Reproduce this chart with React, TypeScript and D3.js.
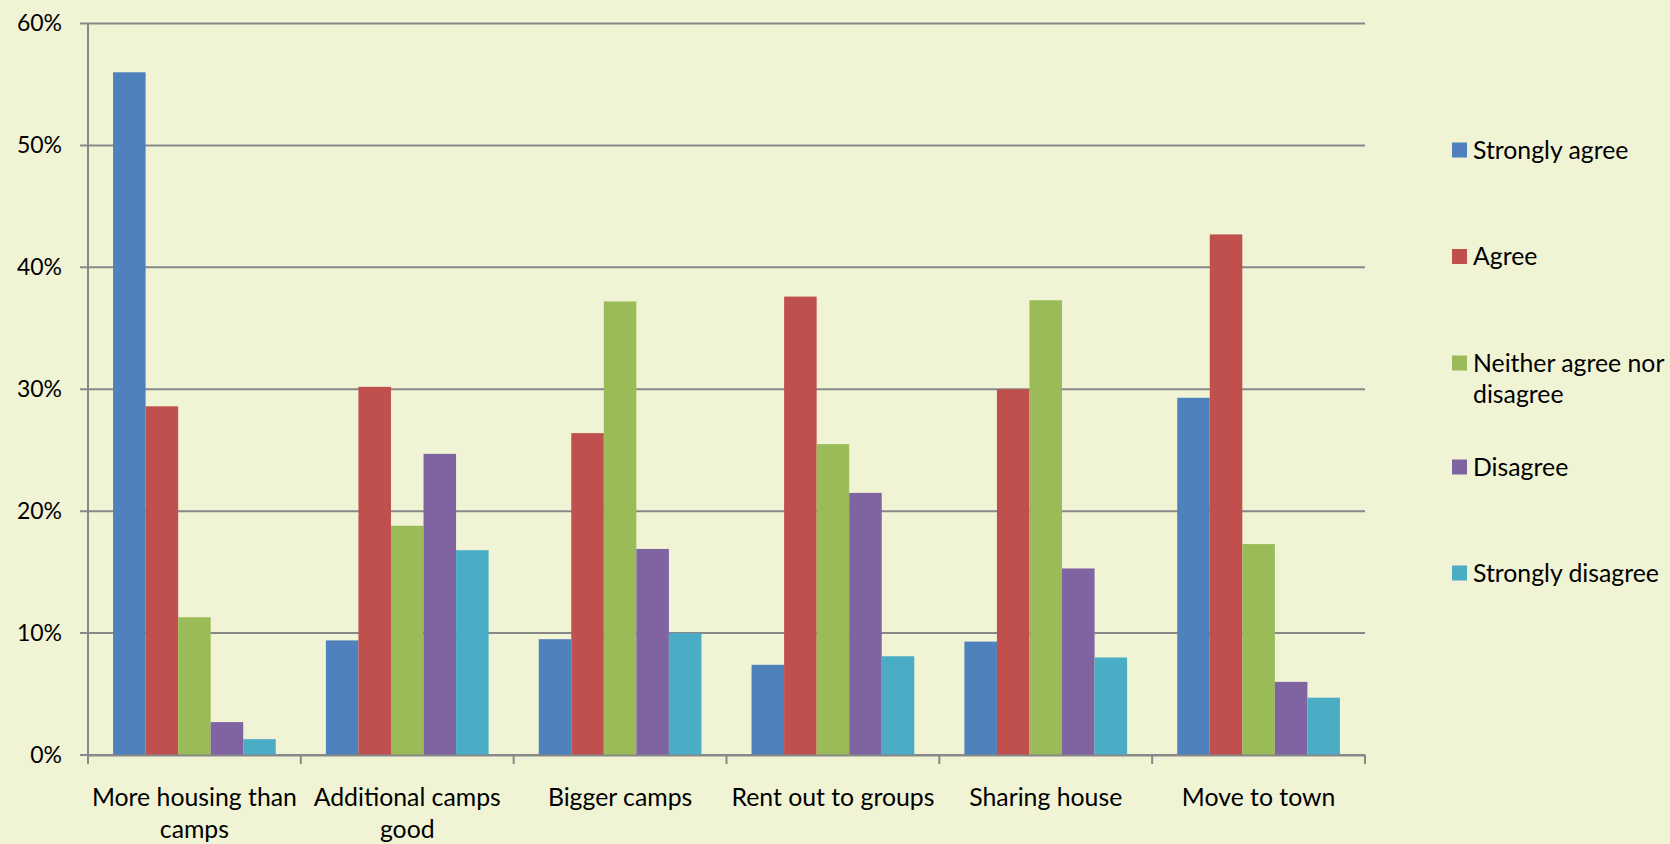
import { axisBottom, axisLeft, scaleBand, scaleLinear, select } from "d3";
import { useEffect, useRef } from "react";

const categories = [
  ["More housing than", "camps"],
  ["Additional camps", "good"],
  ["Bigger camps"],
  ["Rent out to groups"],
  ["Sharing house"],
  ["Move to town"],
];
const seriesNames = ["Strongly agree", "Agree", "Neither agree nor disagree", "Disagree", "Strongly disagree"];
const strongAgree = [56.0, 9.4, 9.5, 7.4, 9.3, 29.3];
const agree = [28.6, 30.2, 26.4, 37.6, 30.0, 42.7];
const neither = [11.3, 18.8, 37.2, 25.5, 37.3, 17.3];
const disagree = [2.7, 24.7, 16.9, 21.5, 15.3, 6.0];
const strongDisagree = [1.3, 16.8, 10.0, 8.1, 8.0, 4.7];
const yTicks = [0, 10, 20, 30, 40, 50, 60];

const COLORS = ["#4f81bd", "#c0504d", "#9bbb59", "#8064a2", "#4bacc6"];
const FONT = "Lato, 'Noto Sans', sans-serif";

export default function App() {
  const svgRef = useRef<SVGSVGElement | null>(null);

  useEffect(() => {
    if (!svgRef.current) return;
    const svg = select(svgRef.current);
    svg.selectAll("*").remove();

    const W = 1670;
    const H = 844;
    const margin = { top: 23.5, left: 88, right: 305, bottom: 89 };
    const innerW = W - margin.left - margin.right;
    const innerH = H - margin.top - margin.bottom;
    const values = [strongAgree, agree, neither, disagree, strongDisagree];
    const keys = categories.map((c) => c.join(" "));

    svg.append("rect").attr("width", W).attr("height", H).attr("fill", "#f0f4d5");

    const x0 = scaleBand<string>().domain(keys).range([0, innerW]);
    const x1 = scaleBand<string>()
      .domain(seriesNames)
      .range([0, x0.bandwidth()])
      .paddingOuter(0.77);
    const y = scaleLinear().domain([0, 60]).range([innerH, 0]);

    const chart = svg.append("g").attr("transform", `translate(${margin.left},${margin.top})`);

    // gridlines, starting at the tick mark left of the axis
    chart
      .append("g")
      .selectAll("line")
      .data(yTicks)
      .join("line")
      .attr("x1", -8)
      .attr("x2", innerW)
      .attr("y1", (d) => y(d))
      .attr("y2", (d) => y(d))
      .attr("stroke", "#888888")
      .attr("stroke-width", 2);

    const yLabels = chart
      .append("g")
      .call(axisLeft(y).tickValues(yTicks).tickSize(0).tickPadding(26).tickFormat((d) => `${d}%`));
    yLabels.select(".domain").remove();
    yLabels
      .selectAll("text")
      .attr("font-family", FONT)
      .attr("font-size", 23)
      .attr("fill", "#000");

    // bars
    const groups = chart
      .append("g")
      .selectAll("g")
      .data(keys)
      .join("g")
      .attr("transform", (k) => `translate(${x0(k)},0)`);
    groups
      .selectAll("rect")
      .data((_, i) => seriesNames.map((s, j) => ({ s, j, v: values[j][i] })))
      .join("rect")
      .attr("x", (d) => x1(d.s) ?? 0)
      .attr("width", x1.bandwidth())
      .attr("y", (d) => y(d.v))
      .attr("height", (d) => innerH - y(d.v))
      .attr("fill", (d) => COLORS[d.j]);

    // left axis line
    chart
      .append("line")
      .attr("x1", 0)
      .attr("x2", 0)
      .attr("y1", 0)
      .attr("y2", innerH)
      .attr("stroke", "#888888")
      .attr("stroke-width", 2);

    // bottom axis
    const xAxisG = chart
      .append("g")
      .attr("transform", `translate(0,${innerH})`)
      .call(axisBottom(x0).tickSize(0).tickFormat(() => ""));
    xAxisG.select(".domain").attr("stroke", "#888888").attr("stroke-width", 2);
    xAxisG.selectAll(".tick").remove();
    const bounds = [...keys.map((k) => x0(k) ?? 0), innerW];
    xAxisG
      .selectAll("line.sep")
      .data(bounds)
      .join("line")
      .attr("class", "sep")
      .attr("x1", (d) => d)
      .attr("x2", (d) => d)
      .attr("y1", 0)
      .attr("y2", 9)
      .attr("stroke", "#888888")
      .attr("stroke-width", 2);

    const catLabels = chart
      .append("g")
      .selectAll("text")
      .data(categories)
      .join("text")
      .attr("text-anchor", "middle")
      .attr("font-family", FONT)
      .attr("font-size", 24.8)
      .attr("fill", "#000")
      .attr("x", (_, i) => (x0(keys[i]) ?? 0) + x0.bandwidth() / 2)
      .attr("y", innerH + 51);
    catLabels
      .selectAll("tspan")
      .data((d) => d)
      .join("tspan")
      .attr("x", function () {
        return (this.parentNode as SVGTextElement).getAttribute("x");
      })
      .attr("dy", (_, i) => (i === 0 ? 0 : 32))
      .text((d) => d);

    // legend
    const legendLines = [["Strongly agree"], ["Agree"], ["Neither agree nor", "disagree"], ["Disagree"], ["Strongly disagree"]];
    const legendY = [150, 256.5, 363, 467, 573];
    const legend = svg
      .append("g")
      .selectAll("g")
      .data(seriesNames)
      .join("g")
      .attr("transform", (_, i) => `translate(1452,${legendY[i]})`);
    legend
      .append("rect")
      .attr("x", 0)
      .attr("y", -7.5)
      .attr("width", 15)
      .attr("height", 15)
      .attr("fill", (_, i) => COLORS[i]);
    legend
      .append("text")
      .attr("font-family", FONT)
      .attr("font-size", 24.8)
      .attr("fill", "#000")
      .attr("y", 8.5)
      .selectAll("tspan")
      .data((_, i) => legendLines[i])
      .join("tspan")
      .attr("x", 21)
      .attr("dy", (_, i) => (i === 0 ? 0 : 31))
      .text((d) => d);
  }, []);

  return (
    <svg
      ref={svgRef}
      width={1670}
      height={844}
      style={{ position: "absolute", left: 0, top: 0 }}
    />
  );
}
